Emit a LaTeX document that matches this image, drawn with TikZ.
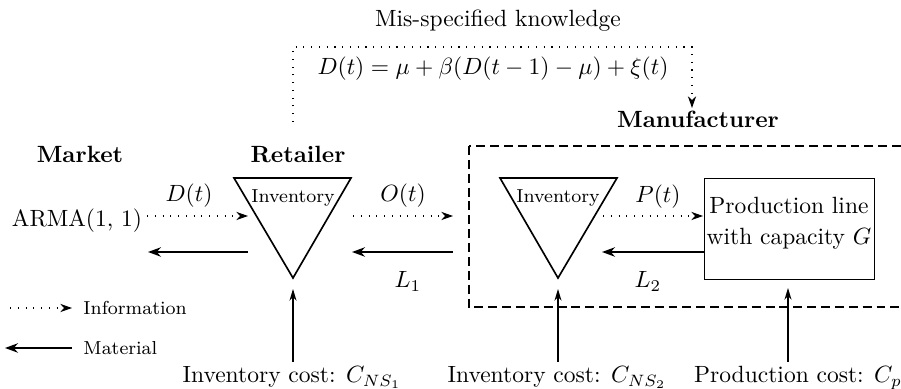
\documentclass[tikz,border=0pt]{standalone}
\usetikzlibrary{arrows.meta}
\begin{document}
\begin{tikzpicture}[x=0.4255pt,y=-0.4255pt,
  info/.style={dash pattern=on 0.5pt off 2.8pt, line width=0.45pt, -{Stealth[length=5pt,width=3.5pt]}},
  mat/.style={line width=0.9pt, -{Stealth[length=5.5pt,width=4pt]}},
  cost/.style={line width=0.5pt, -{Stealth[length=5pt,width=3pt]}},
  tri/.style={line width=0.7pt, line join=miter},
  lbl/.style={inner sep=0pt, anchor=base},
  smalltxt/.style={font=\footnotesize, inner sep=0pt},
  mgrbox/.style={dash pattern=on 3.8pt off 2.1pt, line width=0.45pt}]
\useasboundingbox (0,0) rectangle (901,389);
\clip (0,0) rectangle (901,389);

% headings
\node[lbl] (misk) at (498,27) {Mis-specified knowledge};
\node[lbl] (eq) at (493,75) {$D(t)=\mu+\beta(D(t-1)-\mu)+\xi(t)$};
\node[lbl] (market) at (80,163) {\textbf{Market}};
\node[lbl] (retailer) at (298,163) {\textbf{Retailer}};
\node[lbl] (manuf) at (698,128) {\textbf{Manufacturer}};

% feedback of knowledge
\coordinate (fbs) at (293,122);
\coordinate (fbc) at (692,47);
\coordinate (fbe) at (692,108);
\draw[info] (fbs) |- (fbc) -- (fbe);

% manufacturer dashed box
\draw[mgrbox] (469,146) rectangle (940,307);

% retailer inventory
\coordinate (r1) at (234,178);
\coordinate (r2) at (351,178);
\coordinate (r3) at (293,278);
\draw[tri] (r1) -- (r2) -- (r3) -- cycle;
\node[smalltxt] (rinv) at (293,198) {Inventory};

% manufacturer inventory
\coordinate (m1) at (500,178);
\coordinate (m2) at (617,178);
\coordinate (m3) at (558,278);
\draw[tri] (m1) -- (m2) -- (m3) -- cycle;
\node[smalltxt] (minv) at (558,198) {Inventory};

% production line
\node[draw, line width=0.55pt, minimum width=72.3pt, minimum height=43pt, anchor=north west, inner sep=0pt] (pl) at (704,178) {};
\node[inner sep=0pt, anchor=north, align=center] (pltxt) at (789,197) {Production line\\[1pt]with capacity $G$};

% market
\node[lbl] (arma) at (77,227) {ARMA(1, 1)};

% information flows
\coordinate (a1) at (147,216); \coordinate (a2) at (248,216);
\draw[info] (a1) -- (a2);
\node[lbl] (dt) at (189,202) {$D(t)$};
\coordinate (o1) at (353,216); \coordinate (o2) at (453,216);
\draw[info] (o1) -- (o2);
\node[lbl] (ot) at (403,202) {$O(t)$};
\coordinate (p1) at (603,216); \coordinate (p2) at (703,216);
\draw[info] (p1) -- (p2);
\node[lbl] (pt) at (658,203) {$P(t)$};

% material flows
\coordinate (ma1) at (248,252); \coordinate (ma2) at (148,252);
\draw[mat] (ma1) -- (ma2);
\coordinate (mb1) at (453,252); \coordinate (mb2) at (352,252);
\draw[mat] (mb1) -- (mb2);
\node[lbl] (l1) at (408,288) {$L_1$};
\coordinate (mc2) at (602,252);
\draw[mat] (pl.west |- mc2) -- (mc2);
\node[lbl] (l2) at (648,288) {$L_2$};

% costs
\coordinate (c1b) at (293,362); \coordinate (c1t) at (293,289);
\draw[cost] (c1b) -- (c1t);
\node[lbl] (cost1) at (292,383) {Inventory cost: $C_{NS_1}$};
\coordinate (c2b) at (558,362); \coordinate (c2t) at (558,289);
\draw[cost] (c2b) -- (c2t);
\node[lbl] (cost2) at (557,383) {Inventory cost: $C_{NS_2}$};
\coordinate (c3b) at (788,362); \coordinate (c3t) at (788,288);
\draw[cost] (c3b) -- (c3t);
\node[lbl] (cost3) at (798,383) {Production cost: $C_p$};

% legend
\coordinate (li1) at (10,308); \coordinate (li2) at (72,308);
\draw[info] (li1) -- (li2);
\node[smalltxt, anchor=west] (linfo) at (83,308) {Information};
\coordinate (lm1) at (72,348); \coordinate (lm2) at (5,348);
\draw[mat] (lm1) -- (lm2);
\node[smalltxt, anchor=west] (lmat) at (83,348) {Material};
\end{tikzpicture}
\end{document}
